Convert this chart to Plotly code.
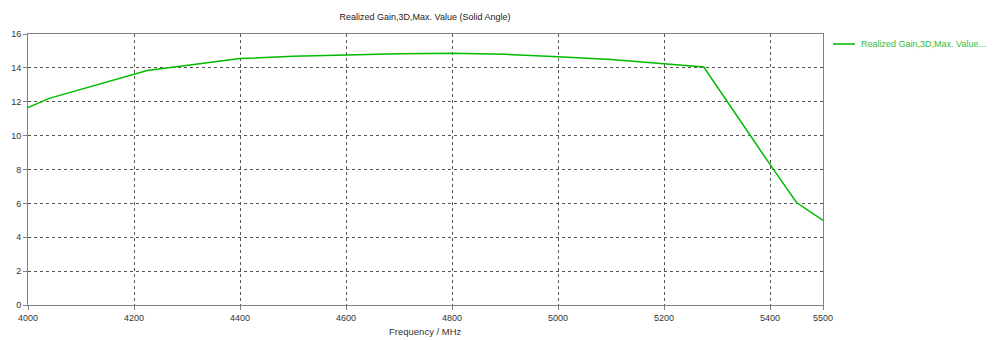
import plotly.graph_objects as go

# Realized gain sweep (3D max value over the solid angle)
freq_mhz = [4000, 4040, 4225, 4400, 4500, 4600, 4700, 4800, 4900, 5000, 5100, 5200, 5275, 5400, 5450, 5500]
gain_db = [11.65, 12.2, 13.85, 14.55, 14.68, 14.78, 14.84, 14.86, 14.8, 14.66, 14.5, 14.25, 14.05, 8.3, 6.05, 5.0]

x_ticks = [4000, 4200, 4400, 4600, 4800, 5000, 5200, 5400, 5500]
y_ticks = [0, 2, 4, 6, 8, 10, 12, 14, 16]

series_name = "Realized Gain,3D,Max. Value..."
title_text = "Realized Gain,3D,Max. Value (Solid Angle)"
x_title = "Frequency / MHz"

LINE_GREEN = "#00bb00"
FONT = "Liberation Sans"

fig = go.Figure()
fig.add_trace(go.Scatter(
    x=freq_mhz, y=gain_db, mode="lines",
    line=dict(color=LINE_GREEN, width=1.5),
    name=series_name, showlegend=False,
))

axis_common = dict(
    showline=True, linecolor="#808080", linewidth=1, mirror=True,
    showgrid=True, gridcolor="#555555", gridwidth=1, griddash="dot",
    ticks="outside", ticklen=4, tickcolor="#808080",
    tickfont=dict(family=FONT, size=9, color="#333333"),
    zeroline=False, automargin=False,
)

fig.update_xaxes(range=[4000, 5500], tickvals=x_ticks, ticktext=[str(v) for v in x_ticks],
                 **axis_common)
fig.update_yaxes(range=[0, 16], tickvals=y_ticks, **axis_common)

# Axis caption below the tick labels
fig.add_annotation(text=x_title, xref="paper", yref="paper", x=0.5, y=-0.098,
                   xanchor="center", yanchor="middle", showarrow=False,
                   font=dict(family=FONT, size=9.5, color="#333333"))

# Legend entry drawn beside the plot area
fig.add_shape(type="line", xref="paper", yref="paper", x0=1.0126, x1=1.0403, y0=0.9632, y1=0.9632,
              line=dict(color=LINE_GREEN, width=1.5))
fig.add_annotation(text=series_name, xref="paper", yref="paper", x=1.0453, y=0.9632,
                   xanchor="left", yanchor="middle", showarrow=False,
                   font=dict(family=FONT, size=9, color="#33bb33"))

fig.update_layout(
    width=1000, height=340,
    margin=dict(l=28, r=177, t=34, b=35),
    paper_bgcolor="white", plot_bgcolor="white",
    title=dict(text=title_text, x=0.425, xanchor="center", y=0.95, yanchor="middle",
               font=dict(family=FONT, size=9, color="#222222")),
)

fig.write_html("out.html")
